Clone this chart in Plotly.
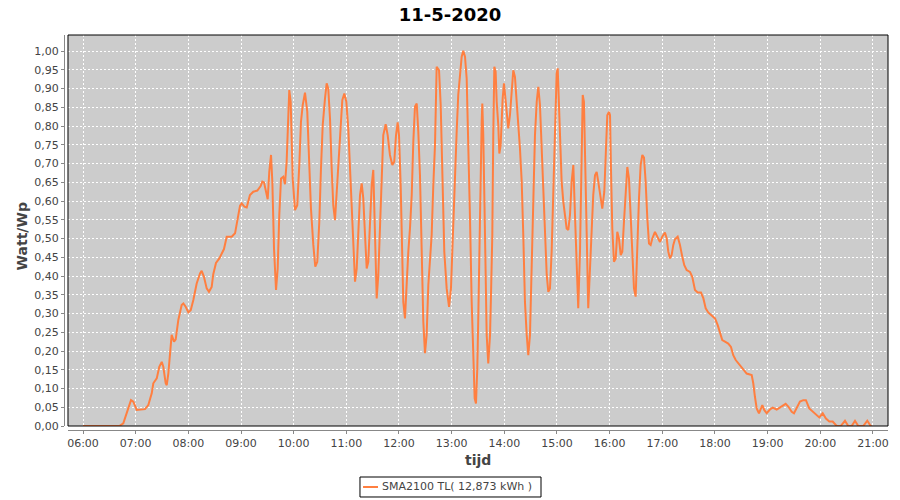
import pandas as pd
import plotly.graph_objects as go

# ── data: minutes since midnight / Watt per Wp ─────────────────
TIJD_MIN = [
    360.0, 401.4, 405.9, 409.8, 414.7, 417.3, 421.2, 430.6, 434.4, 438.3, 440.1, 444.0, 446.9,
    449.7, 451.5, 454.2, 455.4, 457.2, 459.1, 461.0, 463.7, 465.6, 468.6, 472.4, 474.3, 477.0,
    480.0, 482.7, 485.7, 489.5, 493.3, 495.2, 497.8, 500.9, 503.5, 506.6, 508.4, 511.5, 515.3,
    518.0, 520.6, 523.7, 529.4, 533.2, 535.8, 538.9,
    540.8, 543.8, 546.5, 550.2, 554.0, 558.6, 562.4, 564.3, 566.2, 568.1, 570.4, 572.2, 574.2,
    575.7, 577.6, 579.9, 581.8, 583.6, 585.6, 588.2, 590.1, 592.0, 593.2, 595.0, 596.6, 598.9,
    601.5, 604.1, 606.4, 608.3, 610.3, 612.9, 615.5, 617.5, 619.7, 622.4, 624.6, 626.9, 629.2,
    631.1, 633.1, 635.7, 637.6, 639.4, 641.4, 643.3, 645.1, 647.1, 649.0, 651.6, 653.6, 655.4, 657.7,
    660.0, 662.2, 664.2, 666.1, 667.9, 669.9, 671.8, 673.6, 675.6, 677.5, 679.3, 681.3, 683.2,
    685.0, 686.9, 688.9, 690.7, 692.6, 694.6, 696.4, 698.3, 700.3, 702.1, 704.8, 707.1, 709.7,
    712.4, 714.6, 716.6, 718.5,
    720.0, 721.9, 723.1, 724.9, 726.8, 728.8, 730.6, 732.5, 734.5, 736.3, 738.2, 740.2, 742.0,
    743.9, 745.8, 747.7, 749.6, 751.5, 753.4, 755.3, 757.2, 759.1, 761.0, 762.9, 765.6, 767.5,
    769.3, 771.6, 774.3, 777.0, 779.2,
    781.2, 783.8, 785.7, 787.5, 789.5, 791.4, 793.2, 795.2, 797.1, 798.9, 800.9, 802.8, 804.6,
    806.2, 807.7, 809.2, 810.3, 811.5, 813.1, 814.2, 814.9, 816.0, 817.2, 818.8, 819.9, 821.7,
    823.7, 824.8, 826.3, 827.4, 828.6, 830.1, 831.3, 833.1, 834.3, 835.8, 837.0, 838.1, 839.6,
    840.7, 842.7, 844.5, 846.4, 848.4, 850.2, 852.1, 854.1, 855.9, 857.8, 859.8, 861.6, 863.5,
    865.5, 867.3, 869.2, 871.2, 873.0, 874.9, 876.9, 878.7, 880.6, 882.5, 884.4, 886.3, 888.3,
    890.1, 892.0, 893.9, 895.8, 897.7, 899.6,
    900.8, 902.3, 903.4, 905.3, 907.2, 909.1, 911.0, 912.9, 914.8, 916.7, 918.6, 920.5, 922.4,
    924.2, 926.2, 928.1, 929.3, 930.7, 931.9, 933.8, 935.6, 937.6, 939.5, 941.3, 943.3, 945.2,
    947.0, 949.0, 951.6, 953.9, 955.8, 957.3, 959.2,
    960.4, 961.5, 963.0, 964.9, 966.9, 968.7, 970.6, 972.6, 974.4, 976.3, 978.3, 980.1, 982.0,
    983.9, 985.8, 987.7, 989.6, 991.5, 993.4, 995.3, 997.2, 999.1, 1001.0, 1002.9, 1004.8,
    1006.7, 1008.6, 1011.6, 1014.7, 1017.3, 1019.9,
    1023.0, 1025.0, 1026.8, 1028.7, 1030.6, 1032.5, 1034.4, 1037.5, 1040.1, 1042.7, 1045.0,
    1047.7, 1051.5, 1054.1, 1057.2, 1060.3, 1064.0, 1066.7, 1069.4, 1072.3, 1076.2,
    1080.0, 1083.1, 1085.7, 1088.3, 1091.4, 1095.1, 1098.2, 1100.8, 1103.6, 1106.5, 1110.4,
    1113.4, 1116.1, 1121.8, 1123.6, 1125.5, 1127.5, 1130.1, 1132.0, 1133.9, 1136.1, 1138.9,
    1142.6, 1145.7, 1150.3, 1155.9, 1160.5, 1163.5, 1167.4, 1170.0, 1173.1, 1176.8, 1180.6,
    1183.6, 1187.4, 1192.0, 1195.8, 1198.8, 1202.7, 1206.4, 1210.2, 1214.1, 1218.6, 1223.2,
    1228.1, 1231.8, 1235.7, 1239.5, 1243.2, 1248.9, 1253.5, 1257.4, 1258.8,
]

WATT_WP = [
    0.0, 0.0, 0.007, 0.034, 0.069, 0.065, 0.043, 0.045, 0.056, 0.087, 0.114, 0.127, 0.158,
    0.171, 0.158, 0.114, 0.109, 0.14, 0.203, 0.243, 0.225, 0.231, 0.283, 0.323, 0.327, 0.318,
    0.303, 0.309, 0.336, 0.38, 0.407, 0.414, 0.398, 0.367, 0.358, 0.371, 0.405, 0.435, 0.447,
    0.46, 0.472, 0.505, 0.505, 0.514, 0.549, 0.588,
    0.594, 0.585, 0.583, 0.616, 0.625, 0.628, 0.64, 0.652, 0.65, 0.625, 0.605, 0.678, 0.723,
    0.652, 0.474, 0.363, 0.42, 0.563, 0.66, 0.665, 0.645, 0.705, 0.794, 0.896, 0.865, 0.66,
    0.576, 0.589, 0.696, 0.811, 0.856, 0.889, 0.838, 0.731, 0.58, 0.483, 0.425, 0.438, 0.545,
    0.687, 0.803, 0.874, 0.914, 0.9, 0.82, 0.687, 0.589, 0.549, 0.625, 0.75, 0.829, 0.869, 0.887,
    0.865, 0.794, 0.687, 0.572, 0.456, 0.385, 0.42, 0.527, 0.616, 0.647, 0.607, 0.509, 0.42,
    0.438, 0.527, 0.643, 0.683, 0.545, 0.34, 0.403, 0.545, 0.678, 0.776, 0.805, 0.776, 0.723,
    0.696, 0.705, 0.776, 0.81,
    0.776, 0.643, 0.509, 0.331, 0.287, 0.394, 0.465, 0.527, 0.616, 0.758, 0.852, 0.86, 0.785,
    0.669, 0.456, 0.278, 0.194, 0.243, 0.376, 0.447, 0.509, 0.643, 0.749, 0.958, 0.949, 0.856,
    0.669, 0.465, 0.367, 0.318, 0.367,
    0.509, 0.669, 0.785, 0.883, 0.936, 0.985, 1.001, 0.985, 0.927, 0.776, 0.554, 0.331, 0.189,
    0.074, 0.06, 0.154, 0.287, 0.474, 0.669, 0.811, 0.86, 0.776, 0.616, 0.42, 0.243, 0.167,
    0.243, 0.349, 0.509, 0.776, 0.958, 0.945, 0.865, 0.803, 0.727, 0.749, 0.82, 0.874, 0.914,
    0.887, 0.838, 0.794, 0.829, 0.905, 0.949, 0.931, 0.874, 0.803, 0.741, 0.652, 0.509, 0.331,
    0.243, 0.189, 0.243, 0.42, 0.616, 0.776, 0.865, 0.905, 0.856, 0.731, 0.616, 0.491, 0.403,
    0.358, 0.367, 0.465, 0.643, 0.838, 0.94,
    0.954, 0.865, 0.776, 0.652, 0.598, 0.563, 0.527, 0.523, 0.563, 0.652, 0.696, 0.563, 0.403,
    0.314, 0.465, 0.705, 0.883, 0.865, 0.731, 0.491, 0.314, 0.42, 0.545, 0.616, 0.669, 0.678,
    0.652, 0.616, 0.58, 0.625, 0.731, 0.829, 0.838,
    0.829, 0.687, 0.527, 0.438, 0.447, 0.518, 0.5, 0.456, 0.465, 0.545, 0.643, 0.691, 0.66,
    0.554, 0.438, 0.367, 0.345, 0.491, 0.607, 0.696, 0.723, 0.716, 0.652, 0.554, 0.487,
    0.483, 0.5, 0.518, 0.505, 0.491, 0.505,
    0.516, 0.5, 0.465, 0.447, 0.456, 0.483, 0.498, 0.505, 0.483, 0.452, 0.429,
    0.416, 0.411, 0.398, 0.363, 0.356, 0.356, 0.341, 0.314, 0.303, 0.296,
    0.287, 0.269, 0.247, 0.229, 0.225, 0.22, 0.211, 0.189, 0.176, 0.167, 0.158,
    0.147, 0.14, 0.136, 0.114, 0.078, 0.047, 0.034, 0.043, 0.056, 0.043, 0.034,
    0.044, 0.049, 0.044, 0.052, 0.059, 0.052, 0.038, 0.034, 0.047, 0.065, 0.069,
    0.069, 0.047, 0.038, 0.029, 0.023, 0.034, 0.02, 0.012, 0.012, 0.0, 0.0,
    0.014, 0.0, 0.0, 0.014, 0.0, 0.0, 0.014, 0.0, 0.0,
]

assert len(TIJD_MIN) == len(WATT_WP)

DAG = "2020-05-11"
TITEL = "11-5-2020"
SERIE = "SMA2100 TL( 12,873 kWh )"
X_TITEL = "tijd"
Y_TITEL = "Watt/Wp"
X_RANGE_MIN = [342.9, 1277.1]
Y_RANGE = [0, 1.043]

base = pd.Timestamp(DAG)
xs = base + pd.to_timedelta(TIJD_MIN, unit="min")
x_range = [base + pd.Timedelta(minutes=m) for m in X_RANGE_MIN]

FONT = "DejaVu Sans"
LINE_CLR = "#FF7F40"
TICK_CLR = "#444444"
AXIS_CLR = "#888888"

fig = go.Figure()
fig.add_trace(go.Scatter(
    x=xs, y=WATT_WP,
    mode="lines",
    name=SERIE,
    showlegend=False,
    line=dict(color=LINE_CLR, width=2),
))

# plot border (axis lines sit a few px outside, JFreeChart-style)
fig.add_shape(type="rect", xref="x domain", yref="y domain",
              x0=0, x1=1, y0=0, y1=1,
              line=dict(color="black", width=1), layer="above")

# axis titles as annotations so they stay put
fig.add_annotation(text=f"<b>{Y_TITEL}</b>", xref="paper", yref="paper",
                   x=-0.051, y=0.49, xanchor="center", yanchor="middle",
                   textangle=-90, showarrow=False,
                   font=dict(family=FONT, size=14, color=TICK_CLR))
fig.add_annotation(text=f"<b>{X_TITEL}</b>", xref="paper", yref="paper",
                   x=0.502, y=-0.076, xanchor="center", yanchor="middle",
                   showarrow=False,
                   font=dict(family=FONT, size=14, color=TICK_CLR))

# compact JFreeChart-like legend box under the chart
fig.add_shape(type="rect", xref="paper", yref="paper",
              x0=0.3592, x1=0.5789, y0=-0.1696, y1=-0.119,
              line=dict(color="black", width=1), fillcolor="white")
fig.add_shape(type="line", xref="paper", yref="paper",
              x0=0.3629, x1=0.3811, y0=-0.1443, y1=-0.1443,
              line=dict(color=LINE_CLR, width=2))
fig.add_annotation(text=SERIE, xref="paper", yref="paper",
                   x=0.3835, y=-0.1443, xanchor="left", yanchor="middle",
                   showarrow=False,
                   font=dict(family=FONT, size=11, color=TICK_CLR))

axis_common = dict(
    showgrid=True, gridcolor="white", gridwidth=1, griddash="2px,2px",
    zeroline=False,
    showline=True, linecolor=AXIS_CLR, linewidth=1,
    ticks="outside", ticklen=3, tickcolor=AXIS_CLR,
    tickfont=dict(family=FONT, size=11, color=TICK_CLR),
    automargin=False,
    anchor="free", position=0,
)

fig.update_layout(
    width=900, height=500,
    separators=",.",
    paper_bgcolor="white",
    plot_bgcolor="#CCCCCC",
    font=dict(family=FONT, size=11, color=TICK_CLR),
    margin=dict(l=64, r=12, t=35, b=70, autoexpand=False),
    title=dict(text=f"<b>{TITEL}</b>", x=0.5, xref="container", xanchor="center",
               y=0.97, yref="container", yanchor="middle",
               font=dict(family=FONT, size=18, color="black")),
    showlegend=False,
    xaxis=dict(
        type="date",
        range=x_range,
        domain=[0.00485, 1],
        tickformat="%H:%M",
        dtick=3600000,
        tick0=base + pd.Timedelta(hours=6),
        **axis_common,
    ),
    yaxis=dict(
        range=Y_RANGE,
        domain=[0.0101, 1],
        dtick=0.05, tick0=0,
        tickformat=".2f",
        **axis_common,
    ),
)

# drop the default 8px body margin so the 900x500 figure fills the window
fig.write_html("out.html",
               config={"displayModeBar": False},
               post_script="document.body.style.margin='0';")
